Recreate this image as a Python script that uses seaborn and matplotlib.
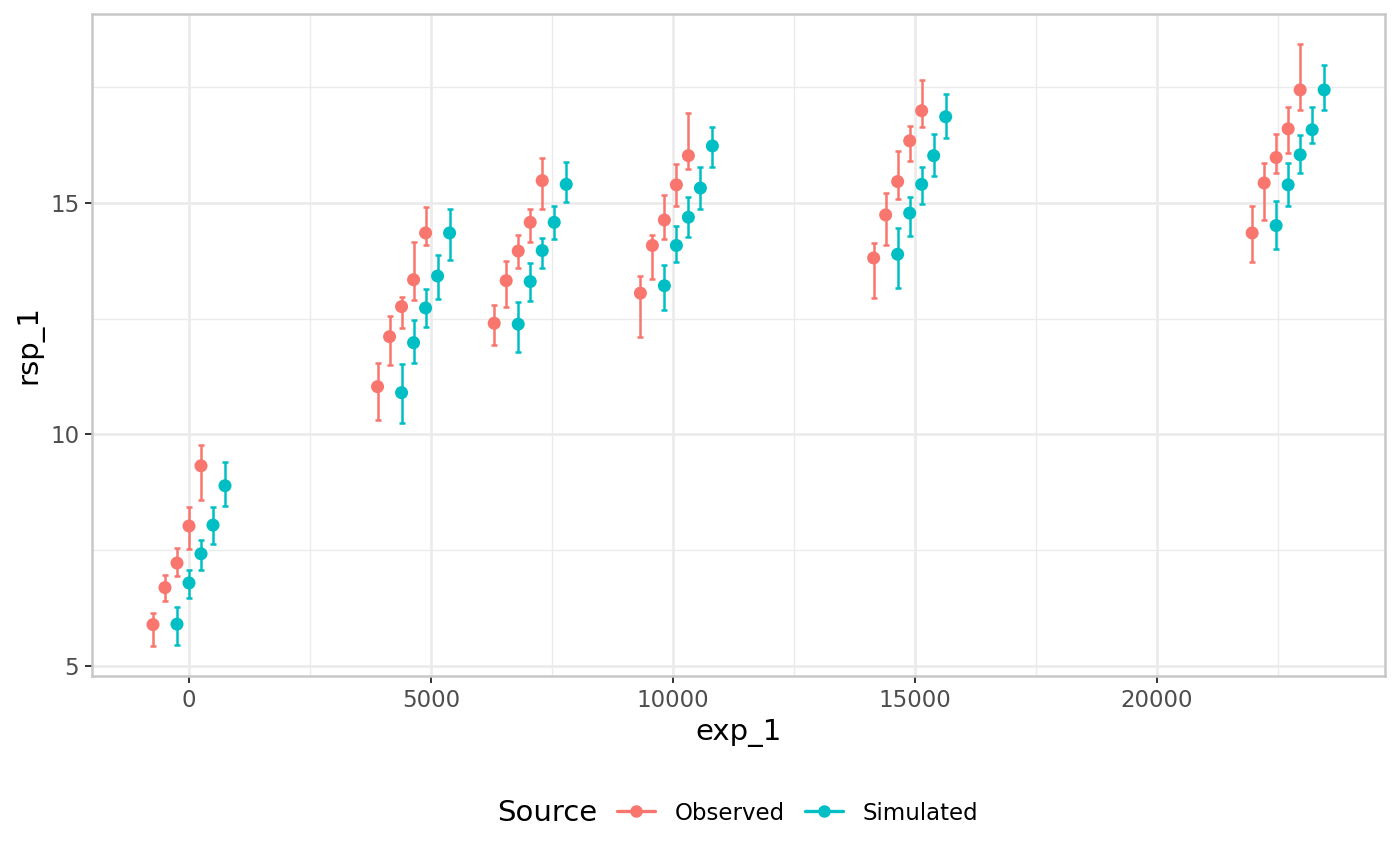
import numpy as np
import pandas as pd
from matplotlib import pyplot as plt
from matplotlib.lines import Line2D
from matplotlib.ticker import MultipleLocator
import seaborn as sns

# cluster centres on exp_1 (each cluster has 5 dodged levels per source)
exp_centres = [0, 4640, 7050, 10070, 14890, 22710]
dodge_step = 248

# observed: mean, lower, upper (5 levels per cluster)
obs_mean = [
    [5.89, 6.69, 7.22, 8.02, 9.32],
    [11.03, 12.11, 12.76, 13.34, 14.35],
    [12.40, 13.32, 13.96, 14.58, 15.48],
    [13.05, 14.08, 14.63, 15.39, 16.02],
    [13.81, 14.74, 15.46, 16.34, 16.99],
    [14.35, 15.43, 15.98, 16.60, 17.44],
]
obs_low = [
    [5.42, 6.40, 6.95, 7.53, 8.59],
    [10.31, 11.50, 12.29, 12.91, 14.09],
    [11.92, 12.75, 13.59, 14.15, 14.87],
    [12.11, 13.35, 14.22, 14.94, 15.73],
    [12.94, 14.09, 15.09, 15.91, 16.63],
    [13.73, 14.63, 15.65, 16.07, 17.01],
]
obs_high = [
    [6.14, 6.97, 7.54, 8.44, 9.76],
    [11.54, 12.56, 12.96, 14.16, 14.92],
    [12.80, 13.75, 14.31, 14.87, 15.97],
    [13.43, 14.31, 15.17, 15.84, 16.95],
    [14.13, 15.22, 16.12, 16.65, 17.66],
    [14.94, 15.86, 16.49, 17.07, 18.43],
]

# simulated: mean, lower, upper
sim_mean = [
    [5.90, 6.79, 7.42, 8.04, 8.89],
    [10.90, 11.98, 12.73, 13.42, 14.35],
    [12.38, 13.30, 13.97, 14.58, 15.40],
    [13.21, 14.08, 14.69, 15.32, 16.23],
    [13.89, 14.78, 15.40, 16.02, 16.86],
    [14.51, 15.39, 16.04, 16.58, 17.44],
]
sim_low = [
    [5.45, 6.46, 7.07, 7.64, 8.46],
    [10.24, 11.54, 12.31, 12.92, 13.77],
    [11.78, 12.89, 13.59, 14.22, 15.01],
    [12.69, 13.73, 14.27, 14.87, 15.78],
    [13.16, 14.29, 14.97, 15.57, 16.40],
    [14.01, 14.94, 15.64, 16.29, 17.01],
]
sim_high = [
    [6.27, 7.07, 7.72, 8.43, 9.41],
    [11.52, 12.47, 13.14, 13.88, 14.87],
    [12.85, 13.70, 14.24, 14.94, 15.89],
    [13.65, 14.49, 15.12, 15.78, 16.64],
    [14.45, 15.12, 15.77, 16.49, 17.35],
    [15.05, 15.86, 16.47, 17.07, 17.98],
]

sources = ['Observed', 'Simulated']
colores = {'Observed': '#F8766D', 'Simulated': '#00BFC4'}

# armamos el dataframe largo
filas = []
for src, m, lo, hi, shift in [('Observed', obs_mean, obs_low, obs_high, -1),
                              ('Simulated', sim_mean, sim_low, sim_high, 1)]:
    for c, centre in enumerate(exp_centres):
        for i in range(5):
            x = centre + (i - 2 + shift) * dodge_step
            filas.append({'exp_1': x, 'rsp_1': m[c][i], 'low': lo[c][i],
                          'high': hi[c][i], 'Source': src})
df = pd.DataFrame(filas)

sns.set_theme(style='white')
plt.rcParams['font.family'] = ['DejaVu Sans']

fig = plt.figure(figsize=(14, 8.65), dpi=100)
ax = fig.add_axes([92 / 1400, 1 - 676 / 865, (1385 - 92) / 1400, (676 - 14) / 865])

for src in sources:
    d = df[df['Source'] == src]
    ax.errorbar(d['exp_1'], d['rsp_1'],
                yerr=[d['rsp_1'] - d['low'], d['high'] - d['rsp_1']],
                fmt='none', ecolor=colores[src], elinewidth=1.8,
                capsize=2.2, capthick=1.8, zorder=3)

sns.scatterplot(data=df, x='exp_1', y='rsp_1', hue='Source', palette=colores,
                s=88, edgecolor='none', legend=False, ax=ax, zorder=4)

ax.set_xlim(-2004, 24711)
ax.set_ylim(4.78, 19.08)
ax.xaxis.set_major_locator(MultipleLocator(5000))
ax.xaxis.set_minor_locator(MultipleLocator(2500))
ax.yaxis.set_major_locator(MultipleLocator(5))
ax.yaxis.set_minor_locator(MultipleLocator(2.5))
ax.grid(which='major', color='#EBEBEB', linewidth=1.9, zorder=0)
ax.grid(which='minor', color='#EBEBEB', linewidth=1.0, zorder=0)
ax.set_axisbelow(True)

for sp in ax.spines.values():
    sp.set_color('#C8C8C8')
    sp.set_linewidth(1.8)

ax.tick_params(which='major', length=5.2, width=1.4, color='#333333',
               labelcolor='#4D4D4D', labelsize=16.5, pad=4, bottom=True, left=True)
ax.tick_params(which='minor', length=0)

ax.set_xlabel('exp_1', fontsize=21, color='black', labelpad=5)
ax.set_ylabel('rsp_1', fontsize=21, color='black', labelpad=5)

# leyenda abajo, estilo ggplot con el titulo a la izquierda
handles = [Line2D([0], [0], color=colores[s], linewidth=2.4, marker='o',
                  markersize=9, markeredgewidth=0) for s in sources]
fig.text(497 / 1400, 1 - 813 / 865, 'Source', fontsize=21, va='center',
         ha='left', color='black')
leg = fig.legend(handles, sources, loc='center left',
                 bbox_to_anchor=(617 / 1400, 1 - 813 / 865), ncol=2, frameon=False,
                 fontsize=16.5, handlelength=1.65, handletextpad=0.85,
                 columnspacing=0.9, borderpad=0, borderaxespad=0)
for t in leg.get_texts():
    t.set_color('black')

plt.savefig('out.png', dpi=100)
